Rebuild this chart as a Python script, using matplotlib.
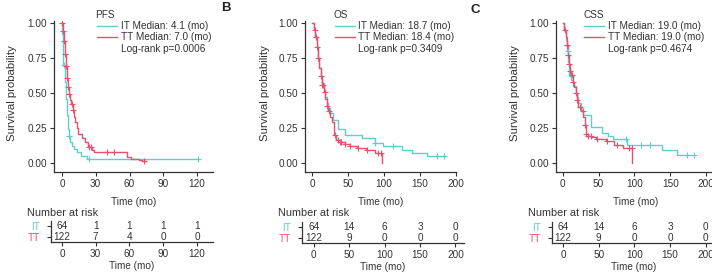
import numpy as np
import matplotlib
matplotlib.use("Agg")
import matplotlib.pyplot as plt

plt.rcParams['font.family'] = ['Liberation Sans', 'DejaVu Sans']

# ---------------- data ----------------
# PFS
pfs_it_t = [0, 0.3, 0.8, 1.2, 2.5, 3.5, 4.5, 5.5, 6.0, 7.5, 9, 11, 13, 17, 22]
pfs_it_s = [1.0, 0.92, 0.80, 0.70, 0.58, 0.46, 0.34, 0.24, 0.19, 0.15, 0.12, 0.10, 0.08, 0.05, 0.031]
pfs_it_end = 121
pfs_it_cens = [1.5, 6.5, 24, 121]
pfs_tt_t = [0, 0.5, 1.5, 2.5, 3.5, 4.1, 5, 6, 7, 8, 9.5, 10.6, 11.8, 13, 14.5, 17.4, 20.4, 23.4,
            26.3, 28.4, 57.5, 61.5, 68, 71]
pfs_tt_s = [1.0, 0.94, 0.87, 0.78, 0.69, 0.61, 0.54, 0.49, 0.45, 0.42, 0.38, 0.33, 0.29, 0.25,
            0.21, 0.18, 0.148, 0.118, 0.095, 0.077, 0.046, 0.031, 0.019, 0.012]
pfs_tt_end = 75
pfs_tt_cens = [0.3, 1.0, 2.0, 3.0, 3.8, 4.5, 5.5, 6.5, 8.5, 10, 24, 26, 40, 46.5, 73]

# OS
os_it_t = [0, 2, 4, 6, 8, 10, 12, 14, 16, 18, 20, 22, 25, 29, 36, 46, 69, 87, 99, 125, 139, 160]
os_it_s = [1.0, 0.95, 0.90, 0.83, 0.75, 0.68, 0.62, 0.57, 0.52, 0.47, 0.43, 0.39, 0.36, 0.31,
           0.24, 0.20, 0.18, 0.143, 0.119, 0.095, 0.071, 0.047]
os_it_end = 185
os_it_cens = [87.4, 112, 173.5, 183.7]
os_tt_t = [0, 2, 4, 6, 8, 10, 12, 14, 16, 18, 20, 22, 24, 27, 30, 33, 38, 45, 52, 63, 75, 87, 97]
os_tt_s = [1.0, 0.95, 0.90, 0.83, 0.75, 0.68, 0.62, 0.56, 0.51, 0.46, 0.41, 0.37, 0.33, 0.29,
           0.20, 0.165, 0.148, 0.138, 0.119, 0.107, 0.09, 0.071, 0.0]
os_tt_end = 97
os_tt_cens = [3.7, 5.1, 6.0, 8.4, 12.1, 14, 15.3, 17.7, 20.5, 23.7, 31.6, 35.3, 38.6, 40,
              45.6, 52.6, 64.2, 75.8, 92, 95.3]

# CSS
css_it_t = [0, 2, 4, 6, 7.5, 9, 12, 15, 18, 20, 22, 25, 28, 40, 55, 63, 70, 89, 138, 160]
css_it_s = [1.0, 0.95, 0.88, 0.80, 0.72, 0.62, 0.595, 0.55, 0.50, 0.47, 0.43, 0.38, 0.345,
            0.26, 0.215, 0.19, 0.17, 0.13, 0.095, 0.06]
css_it_end = 185
css_it_cens = [7, 88.4, 108.8, 121.9, 173, 183.3]
css_tt_t = [0, 2, 4, 5.5, 7, 8.5, 10, 12, 14, 16, 18, 20, 22, 25, 28, 30.5, 32.5, 35, 40, 47,
            60, 72, 84, 97]
css_tt_s = [1.0, 0.95, 0.90, 0.84, 0.77, 0.71, 0.66, 0.63, 0.58, 0.54, 0.50, 0.45, 0.40, 0.37,
            0.33, 0.27, 0.21, 0.195, 0.186, 0.17, 0.155, 0.13, 0.107, 0.0]
css_tt_end = 97
css_tt_cens = [3.3, 5.6, 6.5, 7.9, 8.8, 10.2, 12.6, 14.9, 18.6, 20.5, 24.2, 27.9, 31.2, 32.6,
               35.8, 39, 47.4, 61.4, 75.3, 93, 96.3]

titles = ["PFS", "OS", "CSS"]
it_labels = ["IT Median: 4.1 (mo)", "IT Median: 18.7 (mo)", "IT Median: 19.0 (mo)"]
tt_labels = ["TT Median: 7.0 (mo)", "TT Median: 18.4 (mo)", "TT Median: 19.0 (mo)"]
pvals = ["Log-rank p=0.0006", "Log-rank p=0.3409", "Log-rank p=0.4674"]

pfs_ticks = [0, 30, 60, 90, 120]
os_ticks = [0, 50, 100, 150, 200]
css_ticks = [0, 50, 100, 150, 200]

pfs_risk_it = [64, 1, 1, 1, 1]
pfs_risk_tt = [122, 7, 4, 0, 0]
os_risk_it = [64, 14, 6, 3, 0]
os_risk_tt = [122, 9, 0, 0, 0]
css_risk_it = [64, 14, 6, 3, 0]
css_risk_tt = [122, 9, 0, 0, 0]

groups = ["IT", "TT"]
panel_letters = ["B", "C"]

# ---------------- style ----------------
C_IT = "#5ECFCB"
C_TT = "#E8506E"
DARK = "#333333"
FS = 7.2

W, H = 712, 272
fig = plt.figure(figsize=(W / 100, H / 100), dpi=100)


def px_axes(x0, y0, x1, y1):
    return fig.add_axes([x0 / W, 1 - y1 / H, (x1 - x0) / W, (y1 - y0) / H])


def style(ax):
    for s in ["top", "right"]:
        ax.spines[s].set_visible(False)
    for s in ["left", "bottom"]:
        ax.spines[s].set_color(DARK)
        ax.spines[s].set_linewidth(0.9)
    ax.tick_params(colors=DARK, labelcolor=DARK, labelsize=FS, length=3, width=0.8, pad=2)
    ax.set_facecolor("none")


def km(ax, t, s, end, cens, color):
    tt = list(t) + [end]
    ss = list(s) + [s[-1]]
    ax.step(tt, ss, where="post", color=color, lw=1.0, zorder=3)
    t_arr = np.array(t)
    s_arr = np.array(s)
    cy = [s_arr[np.searchsorted(t_arr, c, side="right") - 1] for c in cens]
    ax.plot(cens, cy, ls="none", marker="+", ms=4.5, mew=0.8, color=color, zorder=4)


panels = [
    dict(it=(pfs_it_t, pfs_it_s, pfs_it_end, pfs_it_cens),
         tt=(pfs_tt_t, pfs_tt_s, pfs_tt_end, pfs_tt_cens),
         ticks=pfs_ticks, risk=(pfs_risk_it, pfs_risk_tt),
         ax=(54, 21, 213, 172), xlim=(-7.1, 134.2),
         tab=(50.7, 221, 213, 241.7), tlim=(-10, 134.2),
         leg=(95, 96.5, 120.5), ylab=11.7, nar=27),
    dict(it=(os_it_t, os_it_s, os_it_end, os_it_cens),
         tt=(os_tt_t, os_tt_s, os_tt_end, os_tt_cens),
         ticks=os_ticks, risk=(os_risk_it, os_risk_tt),
         ax=(305, 21, 456, 172), xlim=(-10.2, 200.5),
         tab=(301.7, 222, 464, 242.7), tlim=(-17, 212),
         leg=(333, 335, 358.5), ylab=265, nar=278.3),
    dict(it=(css_it_t, css_it_s, css_it_end, css_it_cens),
         tt=(css_tt_t, css_tt_s, css_tt_end, css_tt_cens),
         ticks=css_ticks, risk=(css_risk_it, css_risk_tt),
         ax=(556, 21, 716, 172), xlim=(-9.4, 213.9),
         tab=(552, 222, 716, 242.7), tlim=(-15.5, 214.5),
         leg=(583, 584, 608.5), ylab=515, nar=528.3),
]

for i, p in enumerate(panels):
    ax = px_axes(*p["ax"])
    style(ax)
    km(ax, *p["it"], C_IT)
    km(ax, *p["tt"], C_TT)
    ax.set_xlim(*p["xlim"])
    ax.set_ylim(-0.064, 1.014)
    ax.set_xticks(p["ticks"])
    ax.set_xticklabels([str(v) for v in p["ticks"]])
    ax.set_yticks([0, 0.25, 0.5, 0.75, 1.0])
    ax.set_yticklabels(["0.00", "0.25", "0.50", "0.75", "1.00"])

    fig.text(p["ylab"] / W, 1 - 93 / H, "Survival probability", rotation=90,
             ha="center", va="center", fontsize=8.2, color=DARK)
    ax.set_xlabel("Time (mo)", fontsize=FS, color=DARK, labelpad=5.5)

    # legend
    tx, lx, txt = p["leg"]
    fig.text(tx / W, 1 - 15 / H, titles[i], fontsize=FS, color=DARK, ha="left", va="center")
    for yy, col, lab in [(26, C_IT, it_labels[i]), (37.3, C_TT, tt_labels[i])]:
        fig.add_artist(plt.Line2D([lx / W, (lx + 20) / W], [1 - yy / H, 1 - yy / H],
                                  color=col, lw=1.0))
        fig.text(txt / W, 1 - yy / H, lab, fontsize=FS, color=DARK, ha="left", va="center")
    fig.text(txt / W, 1 - 48.7 / H, pvals[i], fontsize=FS, color=DARK, ha="left", va="center")

    # risk table
    ta = px_axes(*p["tab"])
    style(ta)
    ta.set_xlim(*p["tlim"])
    ta.set_ylim(-0.47, 1.47)
    ta.set_xticks(p["ticks"])
    ta.set_xticklabels([str(v) for v in p["ticks"]])
    ta.set_yticks([1, 0])
    ta.set_yticklabels(groups)
    for lbl, col in zip(ta.get_yticklabels(), [C_IT, C_TT]):
        lbl.set_color(col)
    ta.tick_params(axis="y", pad=5)
    r_it, r_tt = p["risk"]
    for xv, a, b in zip(p["ticks"], r_it, r_tt):
        ta.text(xv, 1, str(a), ha="center", va="center", fontsize=FS, color=DARK)
        ta.text(xv, 0, str(b), ha="center", va="center", fontsize=FS, color=DARK)
    ta.set_xlabel("Time (mo)", fontsize=FS, color=DARK, labelpad=1.5)
    fig.text(p["nar"] / W, 1 - 213.3 / H, "Number at risk", fontsize=7.8, color=DARK,
             ha="left", va="center")

for letter, (lx_, ly_) in zip(panel_letters, [(226, 8), (475.5, 10)]):
    fig.text(lx_ / W, 1 - ly_ / H, letter, fontsize=9.5, fontweight="bold", color="#222222",
             ha="center", va="center")

fig.savefig("out.png", dpi=100)
